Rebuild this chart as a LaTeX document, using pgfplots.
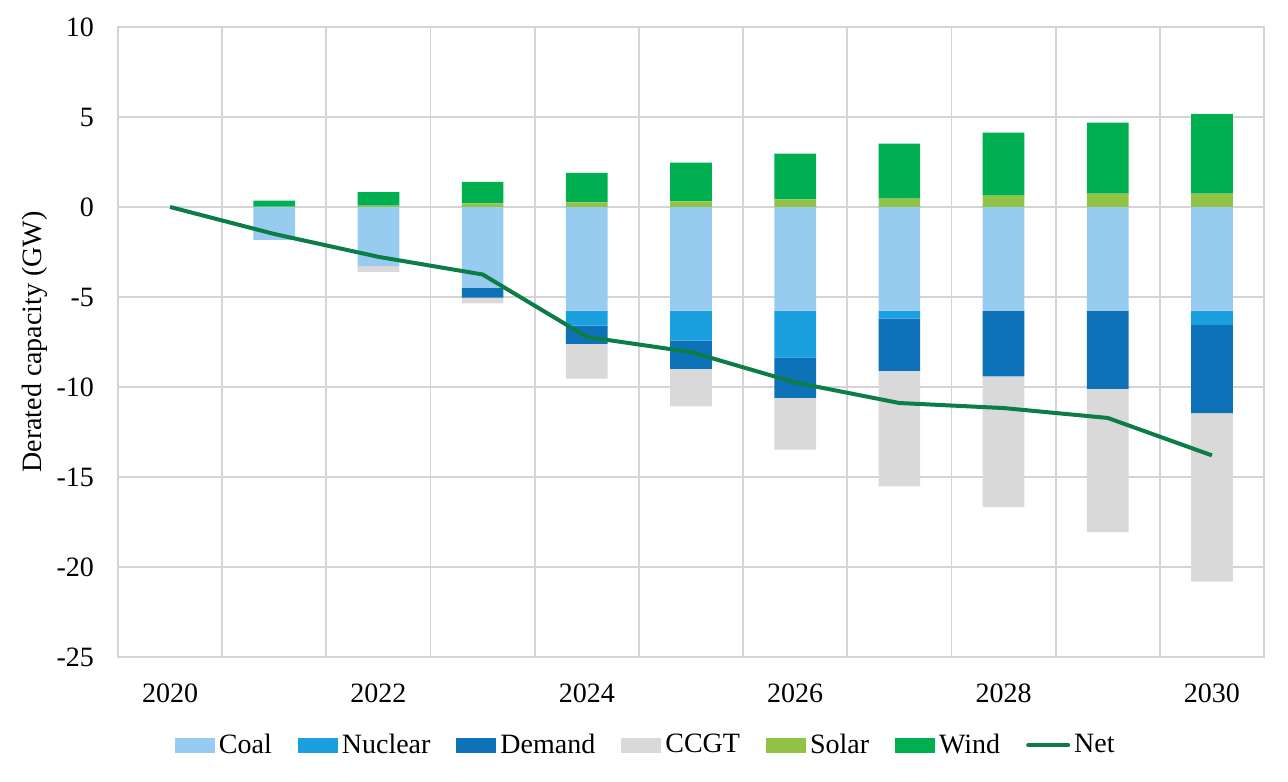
\documentclass[border=0pt]{standalone}
\usepackage{pgfplots}
\pgfplotsset{compat=1.18}
\usepackage{fontspec}
\setmainfont{Liberation Serif}

\definecolor{coal}{HTML}{97CBEF}
\definecolor{nuclear}{HTML}{1A9FDF}
\definecolor{demand}{HTML}{0E72B8}
\definecolor{ccgt}{HTML}{D9D9D9}
\definecolor{solar}{HTML}{92C347}
\definecolor{wind}{HTML}{00AF50}
\definecolor{net}{HTML}{0B7D45}
\definecolor{gridc}{HTML}{D4D4D4}

\newcommand{\chartfont}{\fontsize{14}{16}\selectfont}

\pgfplotsset{
  base/.style={
    scale only axis, width=573pt, height=315pt,
    xmin=2019.5, xmax=2030.5, ymin=-25, ymax=10,
  },
  barleg/.style={legend image code/.code={\fill[##1] (0pt,-3.75pt) rectangle (20pt,3.75pt);}},
  lineleg/.style={legend image code/.code={\draw[##1] (1pt,0pt) -- (21pt,0pt);}},
}

% negative stack, year: coal nuclear demand ccgt
\pgfplotstableread{
year coal nuclear demand ccgt
2021 -1.83 0 0 0
2022 -3.28 0 0 -0.32
2023 -4.48 0 -0.56 -0.31
2024 -5.75 -0.84 -1.01 -1.93
2025 -5.75 -1.67 -1.57 -2.08
2026 -5.75 -2.60 -2.26 -2.87
2027 -5.75 -0.45 -2.91 -6.41
2028 -5.75 0 -3.66 -7.26
2029 -5.75 0 -4.36 -7.95
2030 -5.75 -0.80 -4.90 -9.36
}\negdata

\pgfplotstableread{
year solar wind
2021 0.02 0.33
2022 0.08 0.75
2023 0.20 1.20
2024 0.26 1.64
2025 0.31 2.15
2026 0.42 2.54
2027 0.46 3.06
2028 0.63 3.50
2029 0.74 3.95
2030 0.74 4.43
}\posdata

\pgfplotstableread{
year net
2020 0
2021 -1.50
2022 -2.77
2023 -3.75
2024 -7.22
2025 -8.06
2026 -9.75
2027 -10.89
2028 -11.17
2029 -11.72
2030 -13.80
}\netdata

\begin{document}
\begin{tikzpicture}
\begin{axis}[
  base, name=main,
  ybar stacked, bar width=0.4,
  xtick={2020,2022,2024,2026,2028,2030},
  xticklabels={2020,2022,2024,2026,2028,2030},
  minor xtick={2019.5,2020.5,...,2030.5},
  ytick={-25,-20,...,10},
  major tick length=0pt, minor tick length=0pt,
  xmajorgrids=false, xminorgrids=true, ymajorgrids=true,
  grid style={gridc, line width=0.9pt},
  minor grid style={gridc, line width=0.9pt},
  axis line style={gridc, line width=0.9pt},
  /pgf/number format/assume math mode=true,
  tick label style={font=\chartfont, black},
  yticklabel style={xshift=-8.5pt},
  xticklabel style={yshift=-10pt},
  ylabel={Derated capacity (GW)},
  ylabel style={font=\chartfont, at={(axis description cs:-0.0724,0.5)}, anchor=center, rotate=0},
  legend columns=-1,
  legend style={draw=none, fill=none, font=\chartfont,
    at={(0.461,-0.1397)}, anchor=center,
    nodes={inner sep=1.5pt},
    /tikz/every odd column/.append style={column sep=0.5pt},
    /tikz/every even column/.append style={column sep=11.5pt}},
]
\addplot[barleg, fill=coal, draw=none] table[x=year, y=coal] {\negdata};
\addlegendentry{Coal}
\addplot[barleg, fill=nuclear, draw=none] table[x=year, y=nuclear] {\negdata};
\addlegendentry{Nuclear}
\addplot[barleg, fill=demand, draw=none] table[x=year, y=demand] {\negdata};
\addlegendentry{Demand}
\addplot[barleg, fill=ccgt, draw=none] table[x=year, y=ccgt] {\negdata};
\addlegendentry{CCGT}
\addlegendimage{barleg, fill=solar, draw=none}
\addlegendentry{Solar}
\addlegendimage{barleg, fill=wind, draw=none}
\addlegendentry{Wind}
\addlegendimage{lineleg, net, line width=2pt, line cap=round}
\addlegendentry{Net}
\end{axis}

\begin{axis}[
  base, hide axis,
  ybar stacked, bar width=0.4,
]
\addplot[fill=solar, draw=none] table[x=year, y=solar] {\posdata};
\addplot[fill=wind, draw=none] table[x=year, y=wind] {\posdata};
\end{axis}

\begin{axis}[base, hide axis]
\addplot[net, line width=2pt, mark=none] table[x=year, y=net] {\netdata};
\end{axis}

\path ([shift={(-59pt,-62pt)}]main.south west) rectangle ([shift={(12pt,13.5pt)}]main.north east);
\end{tikzpicture}
\end{document}
